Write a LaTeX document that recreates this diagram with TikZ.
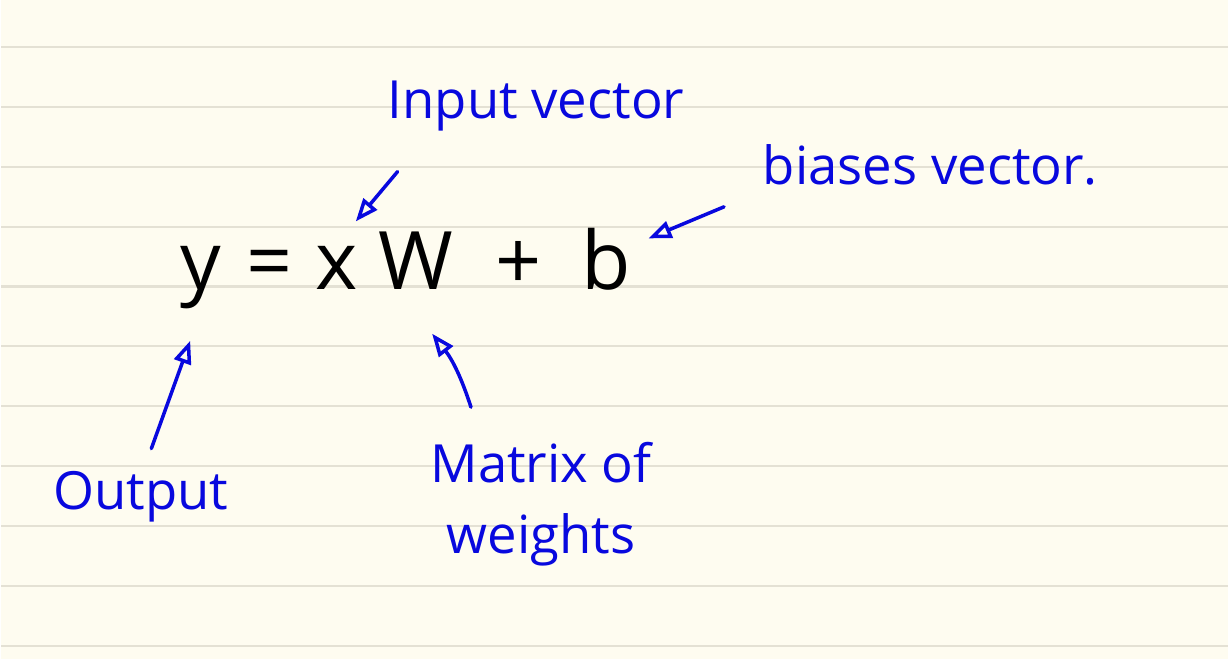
\documentclass[tikz,border=0pt]{standalone}
\usepackage{fontspec}
\setmainfont{Open Sans}
\usepackage{tikz}
\usetikzlibrary{arrows.meta, positioning}
\definecolor{paper}{RGB}{254,252,240}
\definecolor{ruleline}{RGB}{228,225,212}
\definecolor{ink}{RGB}{8,8,222}

\begin{document}
\begin{tikzpicture}[x=0.02cm, y=-0.02cm,
    eqsym/.style={inner sep=0pt, anchor=base, font=\fontsize{46}{50}\selectfont},
    note/.style={inner sep=1pt, text=ink, font=\fontsize{30}{40}\selectfont},
    pointer/.style={draw=ink, line width=2pt, line cap=round, -{Triangle[open, length=13pt, width=10pt]}}]
    % Paper and ruled lines
    \fill[paper] (0,0) rectangle (1229,660);
    \foreach \ly in {47,107,...,647}
      \draw[ruleline, line width=1.2pt] (0,\ly) -- (1229,\ly);

    % Equation
    \node[eqsym] (y) at (200,290) {y};
    \node[eqsym] (eq) at (269,290) {=};
    \node[eqsym] (x) at (336,290) {x};
    \node[eqsym] (W) at (416,290) {W};
    \node[eqsym] (plus) at (518,290) {+};
    \node[eqsym] (b) at (606,290) {b};

    % Labels
    \node[note] (inp) at (536,106) {Input vector};
    \node[note] (bias) at (931,165) {biases vector.};
    \node[note] (out) at (140,498) {Output};
    \node[note, align=center] (mat) at (541,505) {Matrix of\\ weights};

    % Arrows
    \draw[pointer] ([xshift=-79pt, yshift=-22pt]inp.south) -- ([xshift=11pt, yshift=14pt]x.north);
    \draw[pointer] ([xshift=-21pt, yshift=-24pt]bias.west) -- ([xshift=10pt, yshift=-6pt]b.north east);
    \draw[pointer] ([xshift=6pt, yshift=12pt]out.north) -- ([xshift=-6pt, yshift=-18pt]y.south);
    \draw[pointer] ([xshift=-40pt, yshift=19pt]mat.north) to[bend right=10] ([xshift=9pt, yshift=-25pt]W.south);
\end{tikzpicture}
\end{document}
